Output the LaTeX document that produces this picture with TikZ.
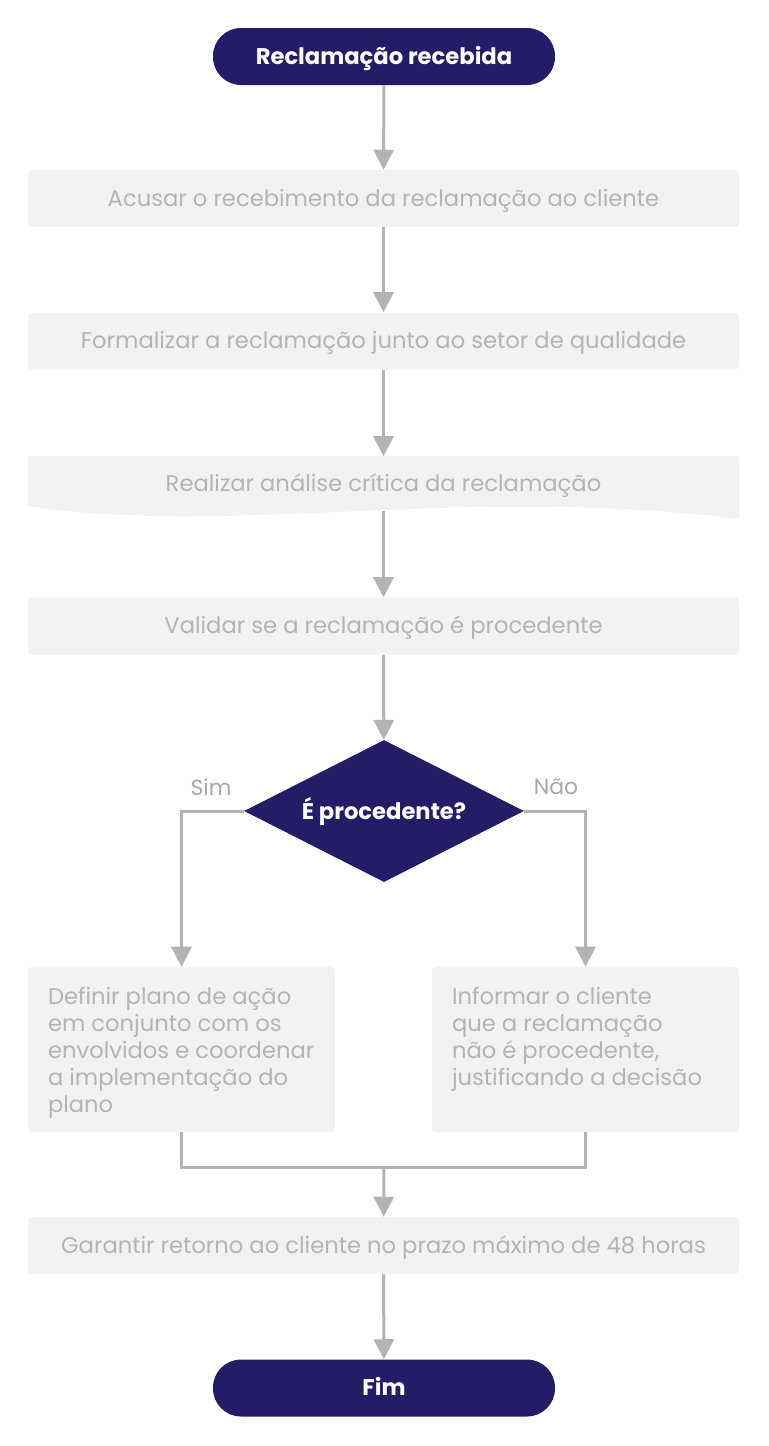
\documentclass[tikz,border=0pt]{standalone}
\usepackage{fontspec}
\setmainfont{Poppins}
\usetikzlibrary{arrows.meta,shapes.geometric,calc}
\definecolor{navy}{HTML}{241C66}
\definecolor{boxfill}{HTML}{F2F2F2}
\definecolor{boxtext}{HTML}{B4B4B4}
\definecolor{linegray}{HTML}{B3B3B3}
\definecolor{labgray}{HTML}{A8A8A8}
\begin{document}
\begin{tikzpicture}[x=0.75pt,y=-0.75pt,
  term/.style={fill=navy, rounded corners=21pt, minimum width=256.5pt, minimum height=42.75pt, text=white, font=\fontsize{17}{20}\selectfont\bfseries, inner sep=0pt, text height=14pt, text depth=2.75pt},
  stepbox/.style={fill=boxfill, rounded corners=3pt, minimum width=533.25pt, minimum height=42.75pt, text=boxtext, font=\fontsize{17}{20}\selectfont, inner sep=0pt, text height=14pt, text depth=2.75pt},
  sidebox/.style={fill=boxfill, rounded corners=3pt, minimum width=230.25pt, minimum height=123.75pt, inner sep=0pt},
  sidetext/.style={text=boxtext, font=\fontsize{17}{20.25}\selectfont, align=left, inner sep=0pt, anchor=north west},
  decision/.style={diamond, aspect=1.972, fill=navy, minimum width=210pt, minimum height=106.5pt, inner sep=0pt, text=white, font=\fontsize{17}{20}\selectfont\bfseries},
  lab/.style={text=labgray, font=\fontsize{16.5}{19}\selectfont, inner sep=0pt},
  line/.style={draw=linegray, line width=2.25pt},
  conn/.style={line, -{Triangle[length=15pt,width=15pt]}}
]
\useasboundingbox (0,0) rectangle (768,1446);
\node[term] (start) at (384,56.5) {Reclamação recebida};
\node[stepbox] (b1) at (383.5,198.5) {Acusar o recebimento da reclamação ao cliente};
\node[stepbox] (b2) at (383.5,341) {Formalizar a reclamação junto ao setor de qualidade};
% document shape
\fill[boxfill] (28,506) -- (28,459) to[out=90,in=180] (31,456) -- (736,456) to[out=0,in=90] (739,459) -- (739,519)
  .. controls (640,506) and (520,504) .. (384,510)
  .. controls (250,516) and (130,522) .. (28,506) -- cycle;
\node[minimum width=533.25pt, minimum height=40.5pt, inner sep=0pt, text=boxtext, font=\fontsize{17}{20}\selectfont, text height=14pt, text depth=2.75pt] (b3) at (383.5,483.5) {Realizar análise crítica da reclamação};
\node[stepbox] (b4) at (383.5,626) {Validar se a reclamação é procedente};
\node[decision] (d) at (384,811) {É procedente?};
\node[lab] (sim) at (211,787) {Sim};
\node[lab] (nao) at (556,787) {Não};
\node[sidebox] (L) at (181.5,1049.5) {};
\node[sidebox] (R) at (585.5,1049.5) {};
\node[sidetext] (Lt) at ($(L.north west)+(20,20)$) {Definir plano de ação\\em conjunto com os\\envolvidos e coordenar\\a implementação do\\plano};
\node[sidetext] (Rt) at ($(R.north west)+(20,20)$) {Informar o cliente\\que a reclamação\\não é procedente,\\justificando a decisão};
\node[stepbox] (b5) at (383.5,1245.5) {Garantir retorno ao cliente no prazo máximo de 48 horas};
\node[term] (fim) at (384,1388) {Fim};
\coordinate (m) at (384,1167);
\draw[conn] (start) -- (b1);
\draw[conn] (b1) -- (b2);
\draw[conn] (b2) -- (b3.north);
\draw[conn] (b3.south) -- (b4);
\draw[conn] (b4) -- (d);
\draw[conn] (d.west) -| (L.north);
\draw[conn] (d.east) -| (R.north);
\draw[line] (L.south) |- (m) -| (R.south);
\draw[conn] (m) -- (b5);
\draw[conn] (b5) -- (fim);
\end{tikzpicture}
\end{document}
